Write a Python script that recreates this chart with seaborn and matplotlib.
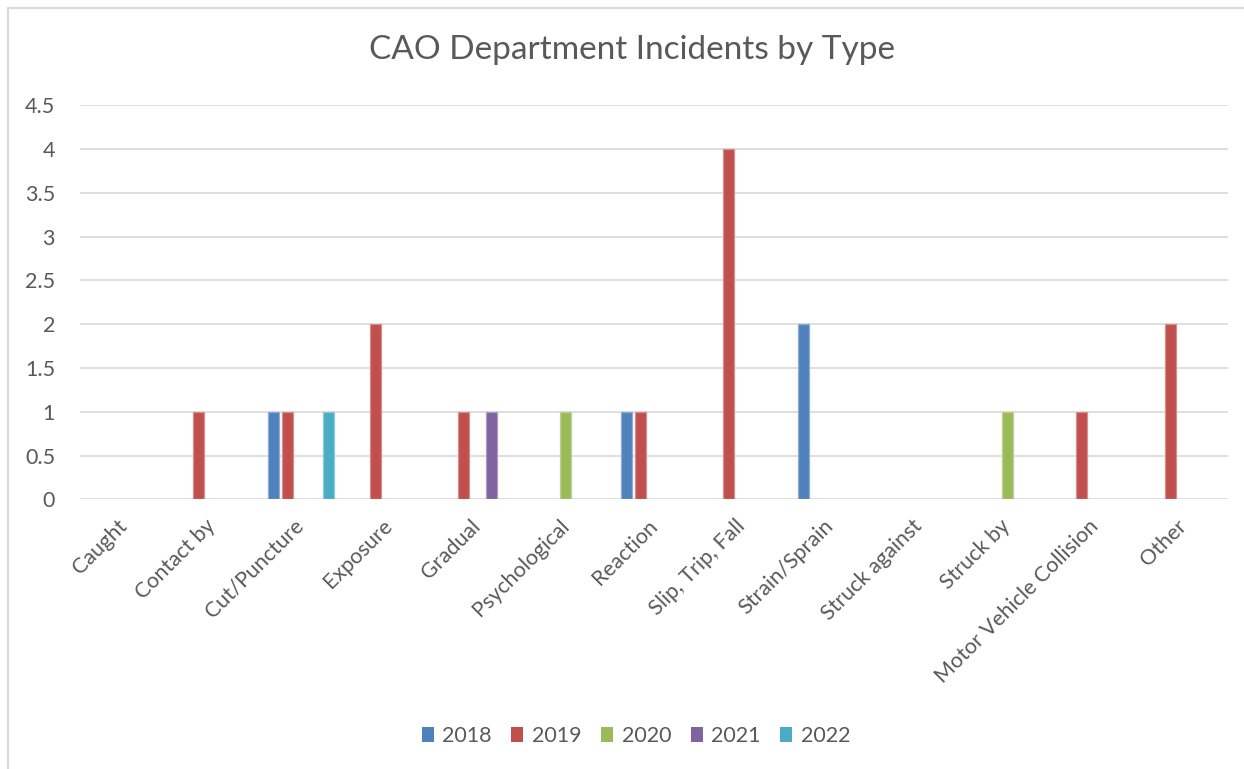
import matplotlib
matplotlib.use("Agg")
import matplotlib.pyplot as plt
from matplotlib.patches import Rectangle, Patch
from matplotlib.colors import to_rgb
import seaborn as sns
import pandas as pd

categories = ["Caught", "Contact by", "Cut/Puncture", "Exposure", "Gradual",
              "Psychological", "Reaction", "Slip, Trip, Fall", "Strain/Sprain",
              "Struck against", "Struck by", "Motor Vehicle Collision", "Other"]
years = ["2018", "2019", "2020", "2021", "2022"]
y2018 = [0, 0, 1, 0, 0, 0, 1, 0, 2, 0, 0, 0, 0]
y2019 = [0, 1, 1, 2, 1, 0, 1, 4, 0, 0, 0, 1, 2]
y2020 = [0, 0, 0, 0, 0, 1, 0, 0, 0, 0, 1, 0, 0]
y2021 = [0, 0, 0, 0, 1, 0, 0, 0, 0, 0, 0, 0, 0]
y2022 = [0, 0, 1, 0, 0, 0, 0, 0, 0, 0, 0, 0, 0]
yticks = [0, 0.5, 1, 1.5, 2, 2.5, 3, 3.5, 4, 4.5]
colors = ["#4F81BD", "#C0504D", "#9BBB59", "#8064A2", "#4BACC6"]

series = [y2018, y2019, y2020, y2021, y2022]
rows = []
for yr, vals in zip(years, series):
    for cat, v in zip(categories, vals):
        rows.append({"Type": cat, "Year": yr, "Count": v})
df = pd.DataFrame(rows)

sns.set_theme(style="white")
plt.rcParams["font.family"] = ["Lato", "DejaVu Sans"]
text_color = "#595959"
grid_color = "#D9D9D9"
label_size = 15.5

W, H = 1244, 769
fig = plt.figure(figsize=(W / 100, H / 100), dpi=100)
ax = fig.add_axes([80 / W, 1 - 499.3 / H, (1228 - 80) / W, (499.3 - 105.3) / H])

sns.barplot(data=df, x="Type", y="Count", hue="Year", order=categories,
            hue_order=years, palette=colors, width=0.776, gap=0.2,
            ax=ax, legend=False, errorbar=None, saturation=1)

# light outline on each bar, none on empty bars
for p in ax.patches:
    if p.get_height() == 0:
        p.set_linewidth(0)
    else:
        r, g, b = to_rgb(p.get_facecolor())
        p.set_edgecolor((r + (1 - r) * 0.35, g + (1 - g) * 0.35, b + (1 - b) * 0.35))
        p.set_linewidth(0.9)

ax.set_ylim(0, 4.5)
ax.set_xlim(-0.5, len(categories) - 0.5)
ax.set_yticks(yticks)
ax.set_yticklabels([f"{t:g}" for t in yticks])
ax.yaxis.grid(True, color=grid_color, linewidth=1.2)
ax.set_axisbelow(True)
for s in ax.spines.values():
    s.set_visible(False)
ax.tick_params(axis="y", length=0, pad=18, labelsize=label_size, labelcolor=text_color)
ax.tick_params(axis="x", length=0, pad=17, labelsize=label_size, labelcolor=text_color)
ax.set_xlabel("")
ax.set_ylabel("")
plt.setp(ax.get_xticklabels(), rotation=45, ha="right", va="center",
         rotation_mode="anchor")

fig.text(632 / W, 1 - 50 / H, "CAO Department Incidents by Type",
         ha="center", va="center", fontsize=24, color=text_color)

handles = [Patch(facecolor=c, edgecolor="none") for c in colors]
fig.legend(handles, years, loc="center", bbox_to_anchor=(636 / W, 1 - 736 / H),
           ncol=5, frameon=False, fontsize=label_size, labelcolor=text_color,
           handlelength=0.56, handleheight=0.7, handletextpad=0.4,
           columnspacing=0.9)

fig.patches.append(Rectangle((8 / W, -0.05), 1.2, 1 - 7.5 / H + 0.05,
                             transform=fig.transFigure, fill=False,
                             edgecolor=grid_color, linewidth=1.5, zorder=0))

fig.savefig("out.png", dpi=100, facecolor="white")
